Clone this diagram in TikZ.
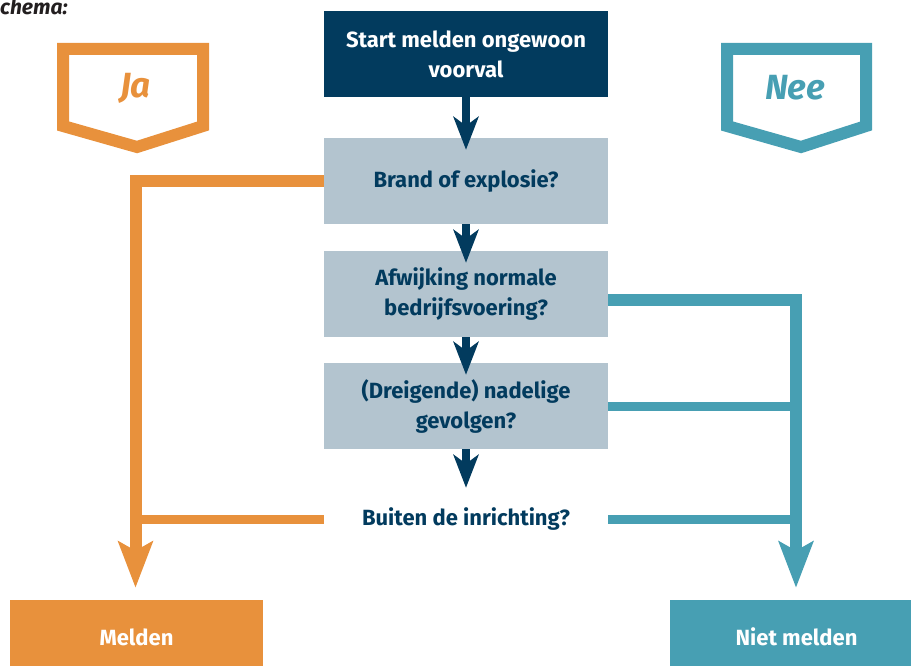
\documentclass[tikz,border=0pt]{standalone}
\usepackage{fontspec}
\setmainfont{Fira Sans}
\usetikzlibrary{arrows.meta,calc}
\definecolor{navy}{HTML}{023B5E}
\definecolor{lightbox}{HTML}{B3C4CF}
\definecolor{orng}{HTML}{E8913C}
\definecolor{tealc}{HTML}{479FB3}
\definecolor{inkc}{HTML}{231F20}
\tikzset{
  qbox/.style={fill=lightbox, text=navy, minimum width=284pt, minimum height=86pt, inner sep=0pt, align=center, font=\fontsize{22}{30}\selectfont\bfseries},
  startbox/.style={qbox, fill=navy, text=white},
  endbox/.style={minimum width=253pt, minimum height=74pt, inner sep=0pt, text=white, font=\fontsize{22}{30}\selectfont\bfseries},
  navyarrow/.style={draw=navy, line width=8pt, -{Stealth[length=33pt,width=25pt,inset=9pt]}},
  mainline/.style={line width=12pt, line join=miter, -{Stealth[length=46pt,width=34pt,inset=9pt]}},
  branchline/.style={line width=9pt},
  tag/.style={line width=12pt, line join=miter},
  tagtext/.style={font=\fontsize{35}{40}\selectfont\bfseries\itshape, inner sep=0pt}
}
\begin{document}
\begin{tikzpicture}[x=1pt,y=-1pt]
\useasboundingbox (0,0) rectangle (911,666);
% title fragment
\node[anchor=base west, inner sep=0pt, text=inkc, font=\fontsize{21}{24}\selectfont\bfseries\itshape] (title) at (0,15) {chema:};
% tags
\draw[tag, draw=orng] (63,49) -- (203,49) -- (203,126) -- (137,147) -- (63,126) -- cycle;
\node[tagtext, text=orng] (ja) at (135.5,88) {Ja};
\draw[tag, draw=tealc] (727,49) -- (866,49) -- (866,126) -- (801,147) -- (727,126) -- cycle;
\node[tagtext, text=tealc] (nee) at (795,88) {Nee};
% boxes
\node[startbox] (start) at (466,54) {Start melden ongewoon\\voorval};
\node[qbox] (brand) at (466,181) {Brand of explosie?};
\node[qbox] (afw) at (466,294) {Afwijking normale\\bedrijfsvoering?};
\node[qbox] (dreig) at (466,406) {(Dreigende) nadelige\\gevolgen?};
\node[qbox, fill=none] (buiten) at (466,519) {Buiten de inrichting?};
\node[endbox, fill=orng] (melden) at (136.5,637) {Melden};
\node[endbox, fill=tealc] (niet) at (796.5,637) {Niet melden};
% navy arrows
\draw[navyarrow] (start.south) -- ($(brand.north)+(0,12)$);
\draw[navyarrow] (brand.south) -- ($(afw.north)+(0,12)$);
\draw[navyarrow] (afw.south) -- ($(dreig.north)+(0,12)$);
\draw[navyarrow] (dreig.south) -- ($(buiten.north)+(0,12)$);
% yes side
\draw[mainline, draw=orng] (brand.west) -| ($(melden.north)+(-1,-12)$);
\draw[branchline, draw=orng] (buiten.west) -- ($(buiten.west -| melden.north)+(-1,0)$);
% no side
\draw[mainline, draw=tealc] ($(afw.east)+(0,6)$) -| ($(niet.north)+(-0.5,-12)$);
\draw[branchline, draw=tealc] (dreig.east) -- ($(dreig.east -| niet.north)+(-0.5,0)$);
\draw[branchline, draw=tealc] (buiten.east) -- ($(buiten.east -| niet.north)+(-0.5,0)$);
\end{tikzpicture}
\end{document}
